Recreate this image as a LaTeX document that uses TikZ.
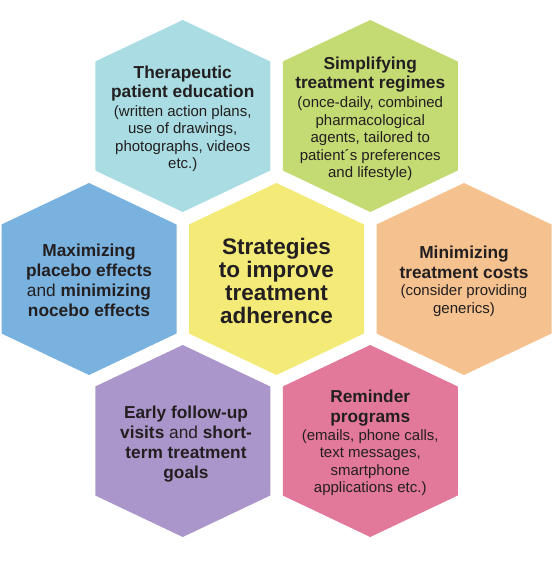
\documentclass[tikz,border=0pt]{standalone}
\usepackage{fontspec}
\setmainfont{Liberation Sans}
\definecolor{hteal}{HTML}{A9DDE3}
\definecolor{hgreen}{HTML}{C4DA73}
\definecolor{hblue}{HTML}{79B1DF}
\definecolor{hyellow}{HTML}{F3EA78}
\definecolor{horange}{HTML}{F5C18F}
\definecolor{hpurple}{HTML}{AB96CB}
\definecolor{hpink}{HTML}{E3799A}
\definecolor{txt}{HTML}{231F20}
\newcommand\hd{\fontsize{17.3}{17.5}\selectfont\bfseries}
\begin{document}
\begin{tikzpicture}[x=1pt,y=-1pt,
  hexa/.pic={\fill[#1] (0,-96) -- (87.5,-54.5) -- (87.5,54.5) -- (0,96) -- (-87.5,54.5) -- (-87.5,-54.5) -- cycle;},
  txtbase/.style={text=txt, align=center, inner sep=0pt},
  mixtxt/.style={txtbase, font=\fontsize{15}{17.5}\selectfont},
  boldtxt/.style={txtbase, font=\fontsize{17.3}{20}\selectfont\bfseries},
  centertxt/.style={txtbase, font=\fontsize{22.5}{23}\selectfont\bfseries}]
\useasboundingbox (0,0) rectangle (552,571);
% hexagons
\pic at (182.75,116) {hexa=hteal};
\pic at (370.25,116) {hexa=hgreen};
\pic at (89,279) {hexa=hblue};
\pic at (276.5,279) {hexa=hyellow};
\pic at (464,279) {hexa=horange};
\pic at (182.75,441) {hexa=hpurple};
\pic at (370.25,441) {hexa=hpink};
% texts
\node[mixtxt] (teal) at (182.75,119) {{\hd Therapeutic}\\[2pt]{\hd patient education}\\[1pt](written action plans,\\use of drawings,\\photographs, videos\\etc.)};
\node[mixtxt] (green) at (370.25,119) {{\hd Simplifying}\\[2pt]{\hd treatment regimes}\\[1.5pt](once-daily, combined\\pharmacological\\agents, tailored to\\patient´s preferences\\and lifestyle)};
\node[boldtxt] (blue) at (89,280) {Maximizing\\placebo effects\\{\mdseries and} minimizing\\nocebo effects};
\node[centertxt] (center) at (276.5,281) {Strategies\\to improve\\treatment\\adherence};
\node[mixtxt] (orange) at (464,281) {{\hd Minimizing}\\[2.5pt]{\hd treatment costs}\\(consider providing\\generics)};
\node[boldtxt] (purple) at (186,444) {Early follow-up\\visits {\mdseries and} short-\\term treatment\\goals};
\node[mixtxt] (pink) at (370.25,443) {{\hd Reminder}\\[2.5pt]{\hd programs}\\(emails, phone calls,\\text messages,\\smartphone\\applications etc.)};
\end{tikzpicture}
\end{document}
